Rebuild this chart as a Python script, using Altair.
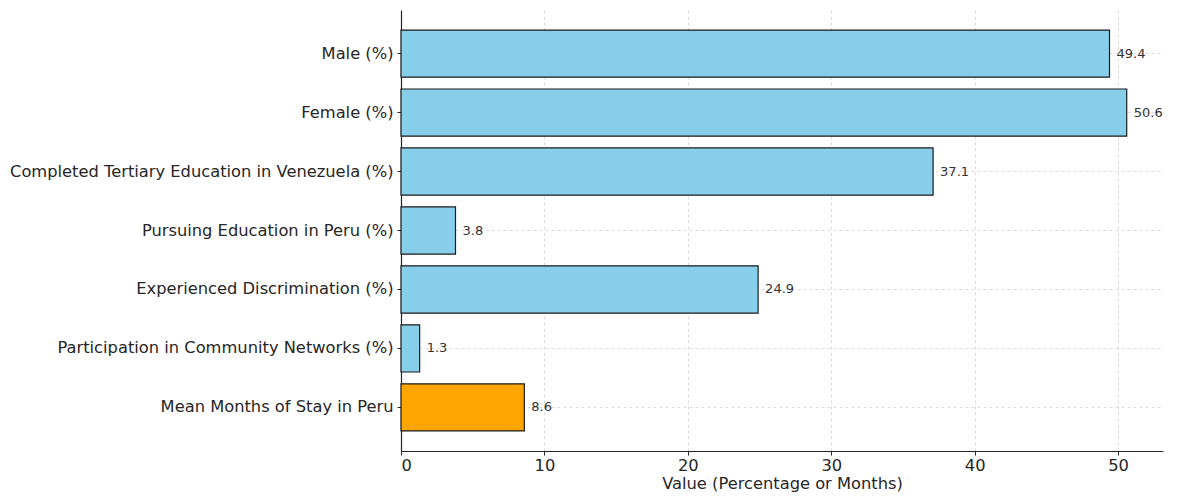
import altair as alt
import pandas as pd

categories = [
    "Male (%)",
    "Female (%)",
    "Completed Tertiary Education in Venezuela (%)",
    "Pursuing Education in Peru (%)",
    "Experienced Discrimination (%)",
    "Participation in Community Networks (%)",
    "Mean Months of Stay in Peru",
]
values = [49.4, 50.6, 37.1, 3.8, 24.9, 1.3, 8.6]
colors = ["#87CEEB", "#87CEEB", "#87CEEB", "#87CEEB", "#87CEEB", "#87CEEB", "#FFA500"]

df = pd.DataFrame({"Category": categories, "Value": values, "Color": colors})
df["Label"] = df["Value"].map(lambda v: f"{v:.1f}")

FONT = "DejaVu Sans"
TXT = "#262626"

y_enc = alt.Y(
    "Category:N",
    sort=categories,
    title=None,
    scale=alt.Scale(paddingInner=0.2, paddingOuter=0.34),
    axis=alt.Axis(
        labelFont=FONT, labelFontSize=16.3, labelColor=TXT, labelPadding=4,
        labelLimit=500,
        domainColor="#262626", domainWidth=1.2,
        tickColor="#262626", tickSize=4,
        grid=True, gridDash=[3, 3], gridColor="#b0b0b0", gridOpacity=0.6, gridWidth=0.8,
    ),
)
x_enc = alt.X(
    "Value:Q",
    title="Value (Percentage or Months)",
    scale=alt.Scale(domain=[0, 53.13], nice=False),
    axis=alt.Axis(
        values=[0, 10, 20, 30, 40, 50], format="d",
        labelFont=FONT, labelFontSize=16.3, labelColor=TXT, labelPadding=2,
        titleFont=FONT, titleFontSize=16.3, titleColor=TXT, titleFontWeight="normal",
        titlePadding=2,
        domainColor="#262626", domainWidth=1.2,
        tickColor="#262626", tickSize=4,
        grid=True, gridDash=[3, 3], gridColor="#b0b0b0", gridOpacity=0.6, gridWidth=0.8,
    ),
)

bars = alt.Chart(df).mark_bar(stroke="#1a1a1a", strokeWidth=1.2).encode(
    y=y_enc,
    x=x_enc,
    color=alt.Color("Color:N", scale=None),
)

text = alt.Chart(df).mark_text(
    align="left", baseline="middle", dx=7, font=FONT, fontSize=13, color="#333333"
).encode(
    y=alt.Y("Category:N", sort=categories),
    x=alt.X("Value:Q"),
    text="Label:N",
)

chart = (
    alt.layer(bars, text)
    .properties(width=762, height=441, padding={"left": 1, "top": 2, "right": 5, "bottom": 0})
    .configure_view(stroke=None)
    .configure_axis(zindex=1)
)

chart.save("out.html", embed_options={"renderer": "svg", "actions": False})
